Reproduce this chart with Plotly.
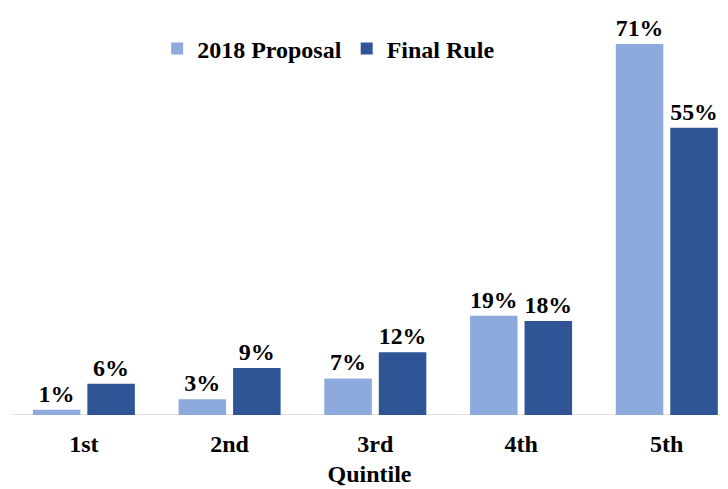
import plotly.graph_objects as go

categories = ["1st", "2nd", "3rd", "4th", "5th"]
proposal_2018 = [1, 3, 7, 19, 71]
final_rule = [6, 9, 12, 18, 55]

FONT = "Liberation Serif"

fig = go.Figure()
fig.add_trace(go.Bar(
    name="<b>2018 Proposal</b>", x=list(range(5)), y=proposal_2018,
    marker=dict(color="#8EA9DB", line=dict(width=0)),
    text=[f"<b>{v}%</b>" for v in proposal_2018], textposition="outside",
    textfont=dict(family=FONT, size=24, color="black"), cliponaxis=False,
))
fig.add_trace(go.Bar(
    name="<b>Final Rule</b>", x=list(range(5)), y=final_rule,
    marker=dict(color="#2F5597", line=dict(width=0)),
    text=[f"<b>{v}%</b>" for v in final_rule], textposition="outside",
    textfont=dict(family=FONT, size=24, color="black"), cliponaxis=False,
))

fig.update_layout(
    width=720, height=481,
    margin=dict(l=3, r=0, t=12, b=74),
    plot_bgcolor="white", paper_bgcolor="white",
    barmode="group", bargap=0.252, bargroupgap=0.128,
    font=dict(family=FONT, color="black"),
    legend=dict(orientation="h", x=0.443, xanchor="center", y=0.927, yanchor="middle",
                font=dict(family=FONT, size=24, color="black"),
                itemwidth=30, traceorder="normal", bgcolor="rgba(0,0,0,0)"),
    xaxis=dict(
        range=[-0.5, 4.42], showgrid=False, showline=False, zeroline=False,
        tickfont=dict(family=FONT, size=24, color="black"),
        tickvals=list(range(5)), ticktext=[f"<b>{c}</b>" for c in categories],
        ticks="", ticklen=0, ticklabelstandoff=12,
        title=dict(text="<b>Quintile</b>", font=dict(family=FONT, size=24, color="black"), standoff=9),
    ),
    yaxis=dict(range=[0, 75.6], visible=False, showgrid=False, zeroline=False),
    showlegend=True,
)
fig.add_shape(type="line", xref="paper", yref="y", x0=0, x1=1, y0=0, y1=0,
              line=dict(color="#D9D9D9", width=1.5), layer="below")

fig.write_html("out.html")
